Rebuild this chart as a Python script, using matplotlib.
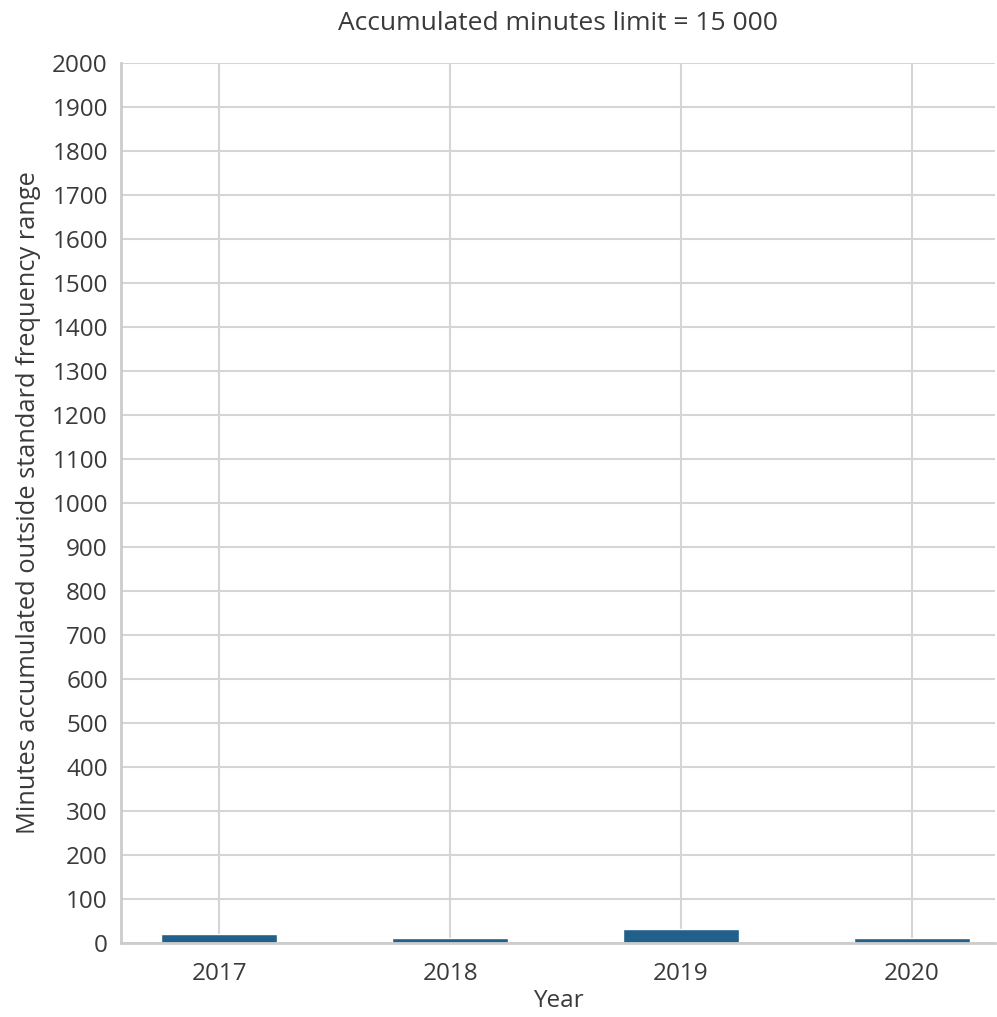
import numpy as np
import pandas as pd
import matplotlib
matplotlib.use('Agg')
import matplotlib.pyplot as plt
import seaborn as sns

years = ['2017', '2018', '2019', '2020']
minutes = [20, 12, 32, 12]

sns.set_theme(style='whitegrid')
plt.rcParams['font.family'] = ['Open Sans', 'DejaVu Sans']

df = pd.DataFrame({'Year': years, 'minutes': minutes}).set_index('Year')

fig = plt.figure(figsize=(9.97, 10.17), dpi=100)
ax = fig.add_axes([0.1214, 0.0728, 0.8766, 0.8652])

df['minutes'].plot.bar(ax=ax, width=0.5, color='#22608c', rot=0)

ax.set_xlim(-0.425, 3.36)
ax.set_ylim(0, 2000)
ax.set_yticks(np.arange(0, 2001, 100))
ax.tick_params(labelsize=17.5, colors='#3a3a3a')
ax.tick_params(axis='x', pad=8)
ax.set_xlabel('Year', fontsize=17.5, color='#3a3a3a', labelpad=2)
ax.set_ylabel('Minutes accumulated outside standard frequency range', fontsize=18.3,
              color='#3a3a3a', labelpad=8)
ax.set_title('Accumulated minutes limit = 15 000', fontsize=19, color='#3a3a3a', pad=24)
ax.grid(True, color='#d5d5d5', linewidth=1.5)
ax.set_axisbelow(True)
sns.despine(ax=ax)
for s in ['left', 'bottom']:
    ax.spines[s].set_color('#cccccc')
    ax.spines[s].set_linewidth(2)

plt.savefig('out.png', dpi=100)
